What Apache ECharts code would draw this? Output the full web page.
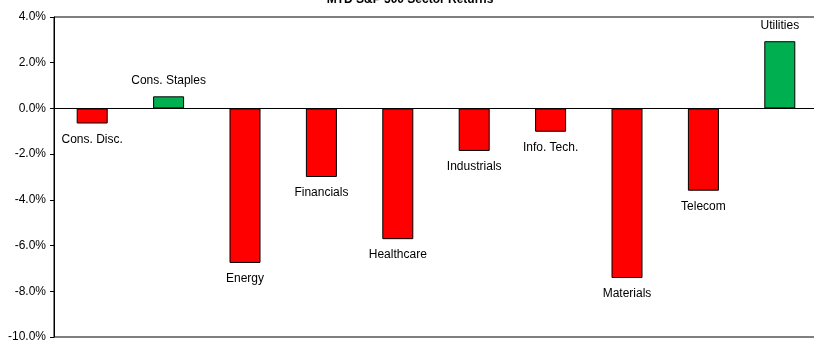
<!DOCTYPE html>
<html>
<head>
<meta charset="utf-8">
<script src="https://cdn.jsdelivr.net/npm/echarts@6/dist/echarts.min.js"></script>
<style>html,body{margin:0;padding:0;background:#fff;overflow:hidden;width:814px;height:345px;}#c{width:818px;height:345px;}</style>
</head>
<body>
<div id="c"></div>
<script>
var categories = ['Cons. Disc.', 'Cons. Staples', 'Energy', 'Financials', 'Healthcare', 'Industrials', 'Info. Tech.', 'Materials', 'Telecom', 'Utilities'];
var returns = [-0.66, 0.53, -6.76, -3.0, -5.72, -1.86, -1.02, -7.42, -3.6, 2.94];
var yTicks = { min: -10, max: 4, interval: 2 };

var chart = echarts.init(document.getElementById('c'), null, { renderer: 'canvas' });
var font = 'Liberation Sans, Arial, sans-serif';
chart.setOption({
  animation: false,
  title: {
    text: 'MTD S&P 500 Sector Returns',
    left: 405, textAlign: 'center', top: -11,
    textStyle: { fontFamily: font, fontSize: 12, fontWeight: 'bold', color: '#000' }
  },
  grid: { left: 54, top: 17, right: 0, bottom: 8, show: true, borderColor: '#000', borderWidth: 1, backgroundColor: 'transparent' },
  xAxis: {
    type: 'category', data: categories,
    axisLine: { onZero: true, lineStyle: { color: '#000', width: 1 } },
    axisTick: { show: false }, axisLabel: { show: false }, splitLine: { show: false }
  },
  yAxis: {
    type: 'value', min: yTicks.min, max: yTicks.max, interval: yTicks.interval,
    axisLine: { show: true, lineStyle: { color: '#000', width: 1 } },
    axisTick: { show: true, length: 4, lineStyle: { color: '#000' } },
    splitLine: { show: false },
    axisLabel: { formatter: function (v) { return v.toFixed(1) + '%'; }, color: '#000', fontFamily: font, fontSize: 12, margin: 8 }
  },
  series: [{
    type: 'bar', barWidth: 31,
    data: returns.map(function (v) {
      return {
        value: v,
        itemStyle: { color: v >= 0 ? '#00B050' : '#FF0000', borderColor: '#000', borderWidth: 1 },
        label: { position: v >= 0 ? 'top' : 'bottom' }
      };
    }),
    label: { show: true, formatter: '{b}', distance: 10, color: '#000', fontFamily: font, fontSize: 12 }
  }]
});
</script>
</body>
</html>
